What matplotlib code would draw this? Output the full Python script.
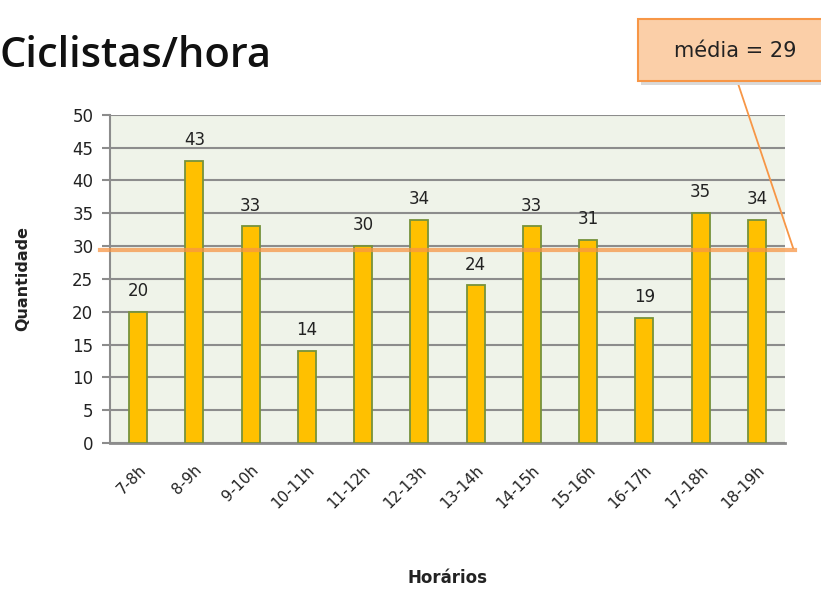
import matplotlib.pyplot as plt
from matplotlib.patches import FancyBboxPatch

# dados do grafico
horarios = ['7-8h', '8-9h', '9-10h', '10-11h', '11-12h', '12-13h',
            '13-14h', '14-15h', '15-16h', '16-17h', '17-18h', '18-19h']
ciclistas = [20, 43, 33, 14, 30, 34, 24, 33, 31, 19, 35, 34]
media = 29.4
media_txt = 'média = 29'

fig = plt.figure(figsize=(8.21, 5.89), dpi=100)
ax = fig.add_axes([0.134, 0.248, 0.822, 0.557])

x = range(len(horarios))
ax.bar(x, ciclistas, width=0.32, color='#FFC000', edgecolor='#76923C',
       linewidth=1.3, zorder=3)

# rotulos em cima das barras
for i, v in enumerate(ciclistas):
    ax.text(i, v + 1.8, str(v), ha='center', va='bottom', fontsize=12,
            color='#222222', zorder=4)

ax.set_facecolor('#EFF3E9')
ax.set_xlim(-0.5, len(horarios) - 0.5)
ax.set_ylim(0, 50)
ax.set_yticks(range(0, 51, 5))
ax.yaxis.grid(True, color='#8C8C8C', linewidth=1.5, zorder=1)
ax.tick_params(axis='y', labelsize=12, length=6, width=1.5, color='#8C8C8C',
               labelcolor='#222222', pad=6)
ax.tick_params(axis='x', length=0, pad=14)
ax.set_xticks(list(x))
ax.set_xticklabels(horarios, rotation=45, ha='right', rotation_mode='anchor',
                   fontsize=11, color='#222222')

for s in ['top', 'right']:
    ax.spines[s].set_visible(False)
ax.spines['left'].set_color('#8C8C8C')
ax.spines['left'].set_linewidth(1.5)
ax.spines['bottom'].set_color('#8C8C8C')
ax.spines['bottom'].set_linewidth(2)

ax.set_ylabel('Quantidade', fontsize=11.5, fontweight='bold', color='#222222')
ax.yaxis.set_label_coords(-0.118, 0.5)
fig.text(0.545, 0.018, 'Horários', ha='center', va='center', fontsize=12,
         fontweight='bold', color='#222222')

fig.text(0.0, 0.905, 'Ciclistas/hora', ha='left', va='center', fontsize=30,
         family='Open Sans', fontweight='semibold', color='#111111')

# linha da media
ax.plot([-0.68, 11.68], [media, media], color='#F79646', alpha=0.75,
        linewidth=3, zorder=5, clip_on=False)

# sombra e caixa da media
sombra = FancyBboxPatch((0.781, 0.855), 0.3, 0.105, transform=fig.transFigure,
                        boxstyle='square,pad=0', facecolor='#D9D9D9',
                        edgecolor='none', zorder=5)
fig.patches.append(sombra)
box = FancyBboxPatch((0.777, 0.862), 0.3, 0.105, transform=fig.transFigure,
                     boxstyle='square,pad=0', facecolor='#FBCFA8',
                     edgecolor='#F79646', linewidth=1.5, zorder=6)
fig.patches.append(box)
fig.text(0.895, 0.914, media_txt, ha='center', va='center', fontsize=15,
         color='#222222', zorder=7)
fig.add_artist(plt.Line2D([0.898, 0.966], [0.862, 0.579],
                          transform=fig.transFigure, color='#F79646',
                          linewidth=1.3))

fig.savefig('out.png', dpi=100)
